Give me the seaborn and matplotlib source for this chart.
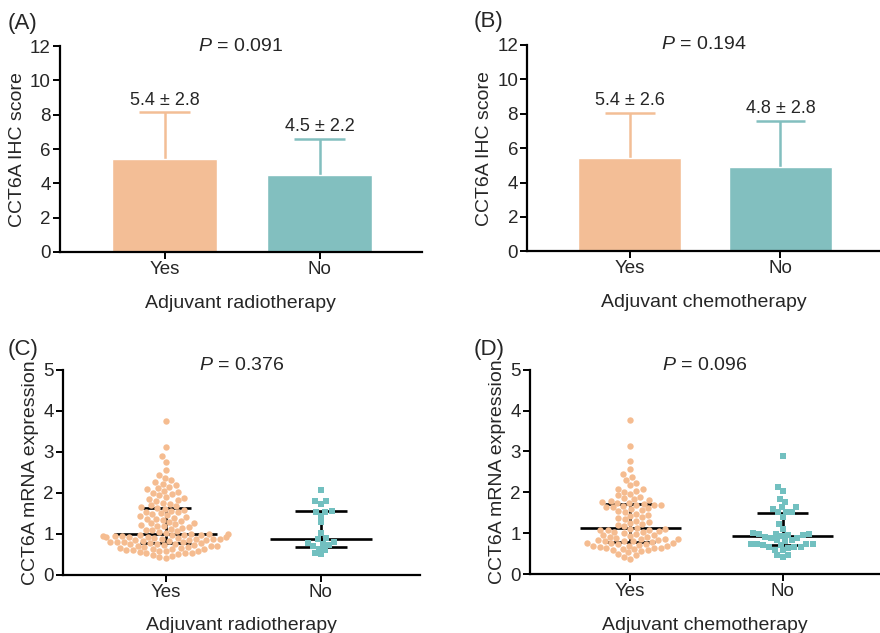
import numpy as np
import matplotlib
matplotlib.use("Agg")
import matplotlib.pyplot as plt
import seaborn as sns

sns.set_style("ticks")
plt.rcParams["font.family"] = ["Liberation Sans", "DejaVu Sans"]
plt.rcParams["mathtext.fontset"] = "custom"
plt.rcParams["mathtext.rm"] = "Liberation Sans"
plt.rcParams["mathtext.it"] = "Liberation Sans:italic"

# categories and colours
groups = ["Yes", "No"]
orange = "#F3BE96"
teal = "#82BFBF"
orange_pt = "#F5BC90"
teal_pt = "#72C0C0"

# (A) / (B) IHC score, mean and SD
ihc_radio_mean = [5.4, 4.5]
ihc_radio_sd = [2.75, 2.1]
ihc_chemo_mean = [5.45, 4.9]
ihc_chemo_sd = [2.6, 2.7]
ihc_radio_labels = ["5.4 ± 2.8", "4.5 ± 2.2"]
ihc_chemo_labels = ["5.4 ± 2.6", "4.8 ± 2.8"]

# (C) mRNA expression, adjuvant radiotherapy
radio_yes = [0.41, 0.43, 0.46, 0.48,
             0.51, 0.52, 0.53, 0.54, 0.55, 0.57, 0.58, 0.59,
             0.60, 0.61, 0.62, 0.63, 0.64, 0.65, 0.66, 0.67, 0.68, 0.69,
             0.70, 0.71, 0.72, 0.73, 0.74, 0.75, 0.76, 0.77,
             0.78, 0.79, 0.80, 0.80, 0.81, 0.82, 0.83, 0.84, 0.85, 0.85,
             0.86, 0.87, 0.88, 0.88, 0.89, 0.90,
             0.91, 0.92, 0.92, 0.93, 0.94, 0.95, 0.95, 0.96, 0.97, 0.97,
             0.98, 0.99, 0.99, 1.00,
             1.02, 1.04, 1.06, 1.08, 1.10, 1.12, 1.14, 1.16, 1.18, 1.19,
             1.21, 1.23, 1.25, 1.27, 1.29, 1.31, 1.33, 1.35, 1.37, 1.39,
             1.41, 1.43, 1.45, 1.47, 1.50, 1.52, 1.54, 1.56, 1.58, 1.61,
             1.63, 1.65, 1.67, 1.70, 1.73, 1.76, 1.79,
             1.82, 1.85, 1.87, 1.90, 1.94, 1.97,
             2.00, 2.02, 2.05, 2.08, 2.11, 2.15, 2.18,
             2.22, 2.25, 2.30, 2.37, 2.44,
             2.56, 2.76, 2.89, 3.12, 3.76]
radio_no = [2.06, 1.81, 1.79, 1.73, 1.56, 1.54, 1.52, 1.44, 1.28, 1.02,
            0.89, 0.86, 0.80, 0.78, 0.76, 0.72, 0.69, 0.64, 0.60, 0.52, 0.50]

# (D) mRNA expression, adjuvant chemotherapy
chemo_yes = [0.38, 0.42, 0.46, 0.50, 0.53, 0.56, 0.58, 0.60, 0.61, 0.62,
             0.63, 0.64, 0.65, 0.66, 0.68, 0.69, 0.70, 0.72, 0.73, 0.74,
             0.75, 0.76, 0.77, 0.78,
             0.80, 0.81, 0.82, 0.83, 0.84, 0.85, 0.86, 0.87, 0.88, 0.90,
             0.92, 0.94, 0.95, 0.96, 0.98, 1.00, 1.02, 1.03, 1.05, 1.07,
             1.08, 1.09, 1.10, 1.11,
             1.14, 1.17, 1.20, 1.23, 1.26, 1.28, 1.31, 1.34, 1.37, 1.40,
             1.42, 1.45, 1.48, 1.51, 1.54, 1.57, 1.59, 1.61, 1.63, 1.65,
             1.66, 1.68, 1.69, 1.70,
             1.72, 1.74, 1.75, 1.77, 1.79, 1.81, 1.83, 1.85, 1.89, 1.93,
             1.97, 2.01, 2.04, 2.07, 2.09, 2.18, 2.24, 2.30, 2.38, 2.44,
             2.57, 2.76, 3.13, 3.77]
chemo_no = [2.88, 2.13, 2.03, 1.84, 1.76, 1.65, 1.63, 1.60, 1.53, 1.52,
            1.51, 1.40, 1.23, 1.11, 1.00, 0.99, 0.98, 0.97, 0.96, 0.95,
            0.94, 0.90, 0.89, 0.88, 0.84, 0.83, 0.82, 0.74, 0.74, 0.73,
            0.73, 0.72, 0.72, 0.67, 0.66, 0.66, 0.65, 0.60, 0.58, 0.48,
            0.46, 0.41]

# median and interquartile range
radio_median = [1.00, 0.86]
radio_q1 = [0.78, 0.68]
radio_q3 = [1.62, 1.56]
chemo_median = [1.12, 0.93]
chemo_q1 = [0.79, 0.72]
chemo_q3 = [1.71, 1.50]

fig = plt.figure(figsize=(8.8, 6.33), dpi=100)
axA = fig.add_axes([0.068, 0.602, 0.411, 0.325])
axB = fig.add_axes([0.599, 0.603, 0.401, 0.326])
axC = fig.add_axes([0.0716, 0.092, 0.406, 0.324])
axD = fig.add_axes([0.602, 0.093, 0.398, 0.323])


def style_axis(ax):
    sns.despine(ax=ax)
    for side in ["left", "bottom"]:
        ax.spines[side].set_linewidth(1.6)
        ax.spines[side].set_color("black")
    ax.tick_params(axis="both", width=1.4, length=5, labelsize=13.5,
                   color="black", pad=1.5)


def bar_panel(ax, means, sds, labels, xlabel, ptext):
    sns.barplot(x=groups, y=means, hue=groups, palette=[orange, teal],
                width=0.68, saturation=1, legend=False, ax=ax,
                errorbar=None, zorder=2)
    cols = [orange, teal]
    for i, (m, s) in enumerate(zip(means, sds)):
        ax.vlines(i, m, m + s, color=cols[i], lw=1.8, zorder=1)
        ax.hlines(m + s, i - 0.165, i + 0.165, color=cols[i], lw=1.8,
                  zorder=1)
        ax.text(i, m + s + 0.2, labels[i], ha="center", va="bottom",
                fontsize=13)
    ax.set_ylim(0, 12)
    ax.set_yticks(range(0, 13, 2))
    ax.set_xlim(-0.68, 1.66)
    ax.set_ylabel("CCT6A IHC score", fontsize=14, labelpad=3)
    ax.set_xlabel(xlabel, fontsize=14, labelpad=12)
    ax.text(0.5, 1.0, ptext, transform=ax.transAxes, ha="center",
            va="center", fontsize=14)
    style_axis(ax)


def swarm_panel(ax, yes, no, med, q1, q3, xlabel, ptext):
    sns.swarmplot(x=["Yes"] * len(yes), y=yes, order=groups, color=orange_pt,
                  marker="o", size=4.6, ax=ax, zorder=3, linewidth=0)
    sns.swarmplot(x=["No"] * len(no), y=no, order=groups, color=teal_pt,
                  marker="s", size=4.3, ax=ax, zorder=3, linewidth=0)
    for i in range(2):
        ax.hlines(med[i], i - 0.33, i + 0.33, color="black", lw=1.9, zorder=2)
        ax.hlines([q1[i], q3[i]], i - 0.165, i + 0.165, color="black",
                  lw=1.9, zorder=2)
        ax.vlines(i, q1[i], q3[i], color="black", lw=1.9, zorder=2)
    ax.set_ylim(0, 5)
    ax.set_yticks(range(0, 6))
    ax.set_xlim(-0.66, 1.64)
    ax.set_ylabel("CCT6A mRNA expression", fontsize=14, labelpad=3)
    ax.set_xlabel(xlabel, fontsize=14, labelpad=12)
    ax.text(0.5, 1.02, ptext, transform=ax.transAxes, ha="center",
            va="center", fontsize=14)
    style_axis(ax)


bar_panel(axA, ihc_radio_mean, ihc_radio_sd, ihc_radio_labels,
          "Adjuvant radiotherapy", "$P$ = 0.091")
bar_panel(axB, ihc_chemo_mean, ihc_chemo_sd, ihc_chemo_labels,
          "Adjuvant chemotherapy", "$P$ = 0.194")
swarm_panel(axC, radio_yes, radio_no, radio_median, radio_q1, radio_q3,
            "Adjuvant radiotherapy", "$P$ = 0.376")
swarm_panel(axD, chemo_yes, chemo_no, chemo_median, chemo_q1, chemo_q3,
            "Adjuvant chemotherapy", "$P$ = 0.096")

# panel letters
fig.text(8 / 880, 1 - 24 / 633, "(A)", fontsize=16, va="center")
fig.text(474 / 880, 1 - 22 / 633, "(B)", fontsize=16, va="center")
fig.text(8 / 880, 1 - 350 / 633, "(C)", fontsize=16, va="center")
fig.text(474 / 880, 1 - 350 / 633, "(D)", fontsize=16, va="center")

fig.savefig("out.png", dpi=100)
